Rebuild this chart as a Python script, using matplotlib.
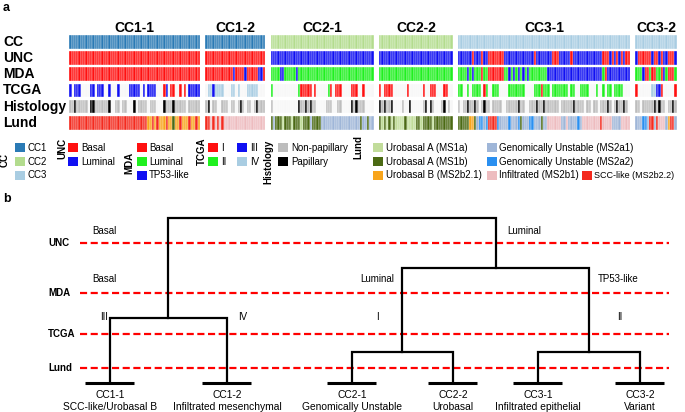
import matplotlib
matplotlib.use('Agg')
import matplotlib.pyplot as plt
from matplotlib.patches import Rectangle
from matplotlib.transforms import blended_transform_factory

plt.rcParams['font.family'] = ['Liberation Sans', 'DejaVu Sans']

# ---------------- data ----------------
segments = ['CC1-1', 'CC1-2', 'CC2-1', 'CC2-2', 'CC3-1', 'CC3-2']
seg_cc = ['CC1', 'CC1', 'CC2', 'CC2', 'CC3', 'CC3']
seg_sizes = [57, 26, 45, 32, 75, 18]

# UNC: B=Basal, L=Luminal
unc = [
    "BBBBBBBBBB BBBBBBBBBB BBBBBBBBBB BBBBBBBBBB BBBBBBBBBB BBBBBBB",
    "BBBBBBBBBB BBBBBBBBBB BBBBBB",
    "LLLLLLLLLL LLLLLLLLLL LLLLLLLLLL LLLLLLLLLL LLLLL",
    "LLLLLLLLLL LLLLLLLLLL LLLLLLLLLL LL",
    "LLLLLLBLLL BLLBBBBBBB LLLLLLLLLL LLLBLLLLLL LBBBLLLLLB LLLLLLLLLL LLLBBBLBLB LBLBB",
    "LBBBBBBLBB LBLLBBBL",
]
# MDA: B=Basal, L=Luminal, T=TP53-like
mda = [
    "BBBBBBBBBB BBBBBBBBBB BBBBBBBBBB BBBBBBBBBB BBBBBBBBBB BBBBBBB",
    "BBBBBBBBBB BBTBBBBTBB BBBTTB",
    "LLLLTTLLLL LTLLLLLLLL LLLLLLLLLL LLLLLLLLLL LLLLL",
    "LLLLLLLLLL LLLLLLLLLL LLLLLLLLLL LL",
    "LLLLTLTLLL BLLBBBBBBB LLTLTLTLTL TLLLLLLLLT TTTTTTTTTT TTTTTTTTTT TTTLBTTTTT TTTTT",
    "LLLTBBLBBL LBTLBBBL",
]
# TCGA: 1=I, 2=II, 3=III, 4=IV, .=NA
tcga = [
    "3.333....3 3.333..3.. .3....3333 3.3.3333.. .13.11..1. 1.33333",
    ".4434444.. .44.4...44 444...",
    "2......... ..211111.1 .....21.11 1....111.. 1....",
    "1.1111.... ..1......1 ..111...11 ..",
    "22..2.2222 .12..222.. ..2222222. ...2221222 .2222222.2 2..2222... 2..2.22.22 22...",
    "1......443 31.....1",
]
# Histology: N=Non-papillary, P=Papillary, .=NA
histology = [
    "NNPNNNNN.P PNNNNNNP.. NN.NN...P. NNNN.NNN.. .PNNNPNNNN N.NNNNN",
    "NP.NN..NNN .NN.NPN.NN .NPNNN",
    "N......... ..PNNPNPNN ....NNN..N N....PNPNN N....",
    "PNPNNP.... N..P.....N P.PN...NP. N.",
    "N.NNPNNPN. NPNN.NNNN. .NNNNNPNN. .NNNPNNPNN NNNN.NNNNN PNNNN.NN.N N.NNNPN.NP NNPN.",
    "NN.NNNNNPN PNN.NNPN",
]
# Lund: a=MS1a, b=MS1b, o=MS2b2.1, g=MS2a1, u=MS2a2, i=MS2b1, s=MS2b2.2
lund = [
    "ssssssssss ssssssssss ssssssssss ssssoososo oosoobooso oosooso",
    "ssisisisii iiiiiiiiii iiiiii",
    "bgbbbabbba bbbabbbgbb bbgggggggg gggggggggb ggbgg",
    "babababaaa abaaaabbab bbbabbbbbb bb",
    "bbbbboobgu ugussssugg ggugggubgg guugggbggi iiiiiggigg ggugiiiiii iisiiiiggg giiii",
    "ggguugssgs iiigossg",
]

rows = ['CC', 'UNC', 'MDA', 'TCGA', 'Histology', 'Lund']
row_data = {'UNC': unc, 'MDA': mda, 'TCGA': tcga, 'Histology': histology, 'Lund': lund}

RED, BLUE, GREEN = '#ff1010', '#1010f2', '#1ff01f'
palettes = {
    'CC': {'CC1': '#2a7ab5', 'CC2': '#b3dc8e', 'CC3': '#a9cde2'},
    'UNC': {'B': RED, 'L': BLUE},
    'MDA': {'B': RED, 'L': GREEN, 'T': BLUE},
    'TCGA': {'1': RED, '2': GREEN, '3': BLUE, '4': '#a9cde2', '.': '#f7f7f7'},
    'Histology': {'N': '#bdbdbd', 'P': '#000000', '.': '#f7f7f7'},
    'Lund': {'a': '#c1dc9a', 'b': '#4b6a14', 'o': '#f8a51c', 'g': '#9fb6d8',
             'u': '#2a8ff0', 'i': '#edbcbf', 's': '#f42a1e'},
}

legend_groups = [
    ('CC', [[('CC1', 'CC1'), ('CC2', 'CC2'), ('CC3', 'CC3')]]),
    ('UNC', [[('Basal', 'B'), ('Luminal', 'L')]]),
    ('MDA', [[('Basal', 'B'), ('Luminal', 'L'), ('TP53-like', 'T')]]),
    ('TCGA', [[('I', '1'), ('II', '2')], [('III', '3'), ('IV', '4')]]),
    ('Histology', [[('Non-papillary', 'N'), ('Papillary', 'P')]]),
    ('Lund', [[('Urobasal A (MS1a)', 'a'), ('Urobasal A (MS1b)', 'b'), ('Urobasal B (MS2b2.1)', 'o')],
              [('Genomically Unstable (MS2a1)', 'g'), ('Genomically Unstable (MS2a2)', 'u'),
               ('Infiltrated (MS2b1)', 'i')],
              [None, None, ('SCC-like (MS2b2.2)', 's')]]),
]

# dendrogram (panel b)
leaves = ['CC1-1', 'CC1-2', 'CC2-1', 'CC2-2', 'CC3-1', 'CC3-2']
leaf_desc = ['SCC-like/Urobasal B', 'Infiltrated mesenchymal', 'Genomically Unstable',
             'Urobasal', 'Infiltrated epithelial', 'Variant']
levels = ['UNC', 'MDA', 'TCGA', 'Lund']

# ---------------- layout ----------------
W, H = 685, 412
fig = plt.figure(figsize=(W / 100, H / 100), dpi=100)
ax0 = fig.add_axes([0, 0, 1, 1])
ax0.set_xlim(0, W)
ax0.set_ylim(H, 0)
ax0.axis('off')

def clean(s):
    return s.replace(' ', '')

gap = 2.4
starts = []
pos = 0.0
for n in seg_sizes:
    starts.append(pos)
    pos += n + gap
total = pos - gap

hx0, hx1 = 69.3, 676.7
hy0, hy1 = 33.6, 130.9
axh = fig.add_axes([hx0 / W, 1 - hy1 / H, (hx1 - hx0) / W, (hy1 - hy0) / H])
axh.set_xlim(0, total)
axh.set_ylim(len(rows) - 0.5, -0.5)
axh.axis('off')

for r, row in enumerate(rows):
    xs, cols = [], []
    for s, seg in enumerate(segments):
        n = seg_sizes[s]
        if row == 'CC':
            codes = [seg_cc[s]] * n
        else:
            codes = list(clean(row_data[row][s]).ljust(n, '.')[:n])
        for k, c in enumerate(codes):
            xs.append(starts[s] + k)
            cols.append(palettes[row].get(c, '#f7f7f7'))
    axh.bar(xs, 0.84, bottom=r - 0.42, width=1, align='edge', color=cols,
            edgecolor='white', linewidth=0.25)

tr_seg = blended_transform_factory(axh.transData, ax0.transData)
for s, seg in enumerate(segments):
    ax0.text(starts[s] + seg_sizes[s] / 2, 27.5, seg, transform=tr_seg, ha='center',
             va='center', fontsize=10, fontweight='bold')

tr_row = blended_transform_factory(ax0.transData, axh.transData)
for r, row in enumerate(rows):
    ax0.text(3, r, row, transform=tr_row, ha='left', va='center', fontsize=10,
             fontweight='bold')

ax0.text(3, 8, 'a', fontsize=9, fontweight='bold', ha='left', va='center')
ax0.text(3, 199, 'b', fontsize=9, fontweight='bold', ha='left', va='center')

# legend
leg_y = [147.7, 161.5, 175.2]
pw, ph = 10, 9
group_layout = {
    'CC': ((5, 160), [15]),
    'UNC': ((62, 148), [68.3]),
    'MDA': ((129, 163), [136.7]),
    'TCGA': ((202, 151), [208.5, 237.5]),
    'Histology': ((268, 162), [278.3]),
    'Lund': ((358, 147), [373.3, 486.7, 582]),
}
for name, cols_ in legend_groups:
    (tx, ty), pxs = group_layout[name]
    ax0.text(tx, ty, name, rotation=90, ha='center', va='center', fontsize=7,
             fontweight='bold')
    for ci, col in enumerate(cols_):
        for ri, item in enumerate(col):
            if item is None:
                continue
            label, code = item
            px = pxs[ci]
            fs = 6.5 if code == 's' else 7
            ax0.add_patch(Rectangle((px, leg_y[ri] - ph / 2), pw, ph,
                                    facecolor=palettes[name][code], edgecolor='none'))
            ax0.text(px + pw + 2.5, leg_y[ri], label, ha='left', va='center', fontsize=fs)

# panel b: dendrogram
level_y = {'UNC': 243, 'MDA': 293, 'TCGA': 334, 'Lund': 368}
for lv in levels:
    ax0.plot([80, 669], [level_y[lv]] * 2, color='#ff0000', lw=1.6,
             dashes=(3.2, 1.6), solid_capstyle='butt', dash_capstyle='butt')
    ax0.text(48, level_y[lv], lv, fontsize=7, fontweight='bold', ha='left', va='center')

leaf_x = [110, 227, 352, 453, 538, 640]
leaf_base = 383
# merge structure: (left, right, height)
merges = {
    'n1': ('CC1-1', 'CC1-2', 318),
    'n2': ('CC2-1', 'CC2-2', 352),
    'n3': ('CC3-1', 'CC3-2', 352),
    'n4': ('n2', 'n3', 268),
    'root': ('n1', 'n4', 218),
}
node_x = {lf: x for lf, x in zip(leaves, leaf_x)}
node_y = {lf: leaf_base for lf in leaves}
for key in ['n1', 'n2', 'n3', 'n4', 'root']:
    a, b, h = merges[key]
    node_x[key] = (node_x[a] + node_x[b]) / 2
    node_y[key] = h
    ax0.plot([node_x[a], node_x[a], node_x[b], node_x[b]],
             [node_y[a], h, h, node_y[b]], color='black', lw=1.6,
             solid_joinstyle='miter')

for lf, x, d in zip(leaves, leaf_x, leaf_desc):
    ax0.plot([x - 24.5, x + 24.5], [leaf_base, leaf_base], color='black', lw=2.2,
             solid_capstyle='butt')
    ax0.text(x, 395, lf, ha='center', va='center', fontsize=7.4)
    ax0.text(x, 407, d, ha='center', va='center', fontsize=7.4)

branch_labels = [
    ('Basal', 92, 231, 'left'), ('Luminal', 507, 231, 'left'),
    ('Basal', 92, 279, 'left'), ('Luminal', 394, 279, 'right'),
    ('TP53-like', 598, 279, 'left'),
    ('III', 104, 317, 'center'), ('IV', 243, 317, 'center'),
    ('I', 377, 317, 'center'), ('II', 620, 317, 'center'),
]
for txt, x, y, ha in branch_labels:
    ax0.text(x, y, txt, ha=ha, va='center', fontsize=7)

fig.savefig('out.png', dpi=100)
